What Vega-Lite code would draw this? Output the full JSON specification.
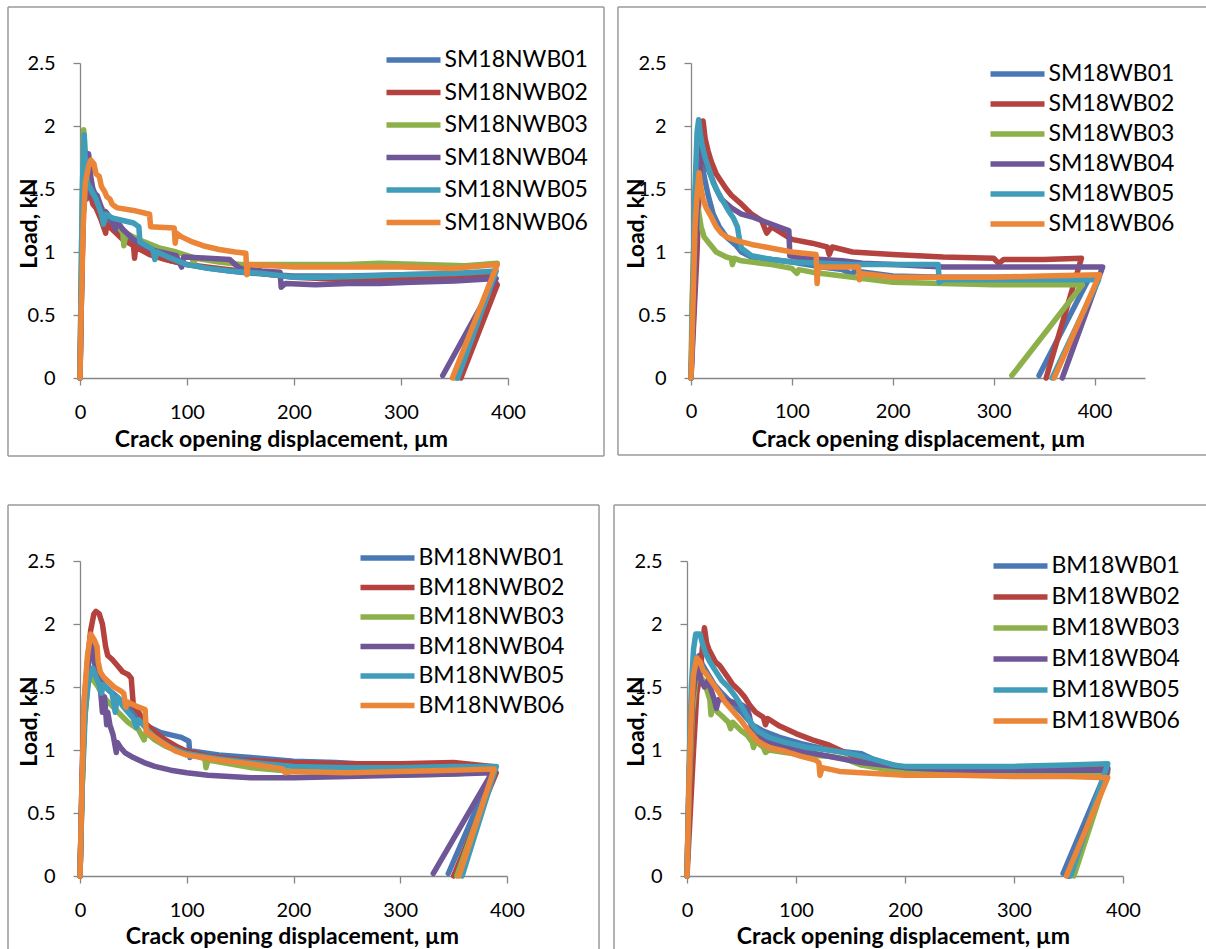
{
"$schema": "https://vega.github.io/schema/vega-lite/v6.json",
"autosize": {"type": "pad"},
"padding": {"left": 7, "top": 6, "right": 0, "bottom": 0},
"background": "white",
"config": {
  "view": {"stroke": null},
  "font": "Lato",
  "axis": {"grid": false, "domainColor": "#868686", "tickColor": "#868686", "domainWidth": 1.3, "tickWidth": 1.3, "tickSize": 7, "labelFont": "Lato", "labelFontSize": 20, "labelColor": "#000000", "labelFlush": false, "titleFont": "Lato", "titleFontSize": 23, "titleFontWeight": "bold", "titleColor": "#000000"},
  "axisX": {"labelPadding": 17},
  "axisY": {"labelPadding": 18},
  "legend": {"labelFont": "Lato", "labelFontSize": 23, "labelColor": "#000000", "symbolType": "M-3,0H3", "symbolSize": 324, "symbolStrokeWidth": 5.5, "symbolOffset": 15.5, "labelOffset": 19, "rowPadding": 8, "title": null, "orient": "none"},
  "line": {"strokeWidth": 5.5, "strokeCap": "round", "strokeJoin": "round"}
},
"resolve": {"scale": {"color": "independent"}, "legend": {"color": "independent"}},
"spacing": 47,
"vconcat": [
{"hconcat": [
{
 "width": 428, "height": 315,
 "layer": [
  {"data": {"values": [{}]}, "mark": {"type": "rule", "stroke": "#9a9a9a", "strokeWidth": 1.5}, "encoding": {"x": {"datum": -67.3}, "x2": {"datum": 489.7}, "y": {"datum": 2.944}, "y2": {"datum": 2.944}}},
  {"data": {"values": [{}]}, "mark": {"type": "rule", "stroke": "#9a9a9a", "strokeWidth": 1.5}, "encoding": {"x": {"datum": -67.3}, "x2": {"datum": 489.7}, "y": {"datum": -0.619}, "y2": {"datum": -0.619}}},
  {"data": {"values": [{}]}, "mark": {"type": "rule", "stroke": "#9a9a9a", "strokeWidth": 1.5}, "encoding": {"x": {"datum": -67.3}, "x2": {"datum": -67.3}, "y": {"datum": 2.944}, "y2": {"datum": -0.619}}},
  {"data": {"values": [{}]}, "mark": {"type": "rule", "stroke": "#9a9a9a", "strokeWidth": 1.5}, "encoding": {"x": {"datum": 489.7}, "x2": {"datum": 489.7}, "y": {"datum": 2.944}, "y2": {"datum": -0.619}}},
  {"data": {"name": "a"}, "mark": {"type": "line"},
   "encoding": {
    "x": {"field": "x", "type": "quantitative", "scale": {"domain": [0, 400], "nice": false, "zero": false}, "axis": {"title": "Crack opening displacement, µm", "values": [0, 100, 200, 300, 400], "format": "d", "titleX": 201, "titleY": 61, "titleBaseline": "middle", "titleAlign": "center"}},
    "y": {"field": "y", "type": "quantitative", "scale": {"domain": [0, 2.5], "nice": false, "zero": false}, "axis": {"title": "Load, kN", "values": [0, 0.5, 1, 1.5, 2, 2.5], "format": "~g", "titleX": -51, "titleY": 160, "titleAngle": 270, "titleBaseline": "middle", "titleAlign": "center"}},
    "color": {"field": "s", "type": "nominal", "scale": {"domain": ["SM18NWB01","SM18NWB02","SM18NWB03","SM18NWB04","SM18NWB05","SM18NWB06"], "range": ["#4A78B5","#B4423F","#8DB04B","#6F5697","#409DB9","#EB8537"]}, "legend": {"legendX": 306, "legendY": -15, "rowPadding": 8.5}},
    "order": {"value": null}
   }}
 ]
},
{
 "width": 454, "height": 315,
 "layer": [
  {"data": {"values": [{}]}, "mark": {"type": "rule", "stroke": "#9a9a9a", "strokeWidth": 1.5}, "encoding": {"x": {"datum": -72.4}, "x2": {"datum": 512.4}, "y": {"datum": 2.944}, "y2": {"datum": 2.944}}},
  {"data": {"values": [{}]}, "mark": {"type": "rule", "stroke": "#9a9a9a", "strokeWidth": 1.5}, "encoding": {"x": {"datum": -72.4}, "x2": {"datum": 512.4}, "y": {"datum": -0.611}, "y2": {"datum": -0.611}}},
  {"data": {"values": [{}]}, "mark": {"type": "rule", "stroke": "#9a9a9a", "strokeWidth": 1.5}, "encoding": {"x": {"datum": -72.4}, "x2": {"datum": -72.4}, "y": {"datum": 2.944}, "y2": {"datum": -0.611}}},
  {"data": {"name": "b"}, "mark": {"type": "line"},
   "encoding": {
    "x": {"field": "x", "type": "quantitative", "scale": {"domain": [0, 450], "nice": false, "zero": false}, "axis": {"title": "Crack opening displacement, µm", "values": [0, 100, 200, 300, 400], "format": "d", "labelPadding": 16, "titleX": 227, "titleY": 61, "titleBaseline": "middle", "titleAlign": "center"}},
    "y": {"field": "y", "type": "quantitative", "scale": {"domain": [0, 2.5], "nice": false, "zero": false}, "axis": {"title": "Load, kN", "values": [0, 0.5, 1, 1.5, 2, 2.5], "format": "~g", "titleX": -55, "titleY": 160, "titleAngle": 270, "titleBaseline": "middle", "titleAlign": "center"}},
    "color": {"field": "s", "type": "nominal", "scale": {"domain": ["SM18WB01","SM18WB02","SM18WB03","SM18WB04","SM18WB05","SM18WB06"], "range": ["#4A78B5","#B4423F","#8DB04B","#6F5697","#409DB9","#EB8537"]}, "legend": {"legendX": 299, "legendY": -1, "rowPadding": 6}},
    "order": {"value": null}
   }}
 ]
}
], "spacing": 12, "resolve": {"scale": {"color": "independent"}, "legend": {"color": "independent"}}},
{"hconcat": [
{
 "width": 427, "height": 315,
 "layer": [
  {"data": {"values": [{}]}, "mark": {"type": "rule", "stroke": "#9a9a9a", "strokeWidth": 1.5}, "encoding": {"x": {"datum": -67.45}, "x2": {"datum": 486.2}, "y": {"datum": 2.944}, "y2": {"datum": 2.944}}},
  {"data": {"values": [{}]}, "mark": {"type": "rule", "stroke": "#9a9a9a", "strokeWidth": 1.5}, "encoding": {"x": {"datum": -67.45}, "x2": {"datum": -67.45}, "y": {"datum": 2.944}, "y2": {"datum": -0.595}}},
  {"data": {"values": [{}]}, "mark": {"type": "rule", "stroke": "#9a9a9a", "strokeWidth": 1.5}, "encoding": {"x": {"datum": 486.2}, "x2": {"datum": 486.2}, "y": {"datum": 2.944}, "y2": {"datum": -0.595}}},
  {"data": {"name": "c"}, "mark": {"type": "line"},
   "encoding": {
    "x": {"field": "x", "type": "quantitative", "scale": {"domain": [0, 400], "nice": false, "zero": false}, "axis": {"title": "Crack opening displacement, µm", "values": [0, 100, 200, 300, 400], "format": "d", "titleX": 212, "titleY": 60, "titleBaseline": "middle", "titleAlign": "center"}},
    "y": {"field": "y", "type": "quantitative", "scale": {"domain": [0, 2.5], "nice": false, "zero": false}, "axis": {"title": "Load, kN", "values": [0, 0.5, 1, 1.5, 2, 2.5], "format": "~g", "titleX": -51, "titleY": 160, "titleAngle": 270, "titleBaseline": "middle", "titleAlign": "center"}},
    "color": {"field": "s", "type": "nominal", "scale": {"domain": ["BM18NWB01","BM18NWB02","BM18NWB03","BM18NWB04","BM18NWB05","BM18NWB06"], "range": ["#4A78B5","#B4423F","#8DB04B","#6F5697","#409DB9","#EB8537"]}, "legend": {"legendX": 280, "legendY": -15, "rowPadding": 5.5}},
    "order": {"value": null}
   }}
 ]
},
{
 "width": 436, "height": 315,
 "layer": [
  {"data": {"values": [{}]}, "mark": {"type": "rule", "stroke": "#9a9a9a", "strokeWidth": 1.5}, "encoding": {"x": {"datum": -66.97}, "x2": {"datum": 478}, "y": {"datum": 2.944}, "y2": {"datum": 2.944}}},
  {"data": {"values": [{}]}, "mark": {"type": "rule", "stroke": "#9a9a9a", "strokeWidth": 1.5}, "encoding": {"x": {"datum": -66.97}, "x2": {"datum": -66.97}, "y": {"datum": 2.944}, "y2": {"datum": -0.595}}},
  {"data": {"name": "d"}, "mark": {"type": "line"},
   "encoding": {
    "x": {"field": "x", "type": "quantitative", "scale": {"domain": [0, 400], "nice": false, "zero": false}, "axis": {"title": "Crack opening displacement, µm", "values": [0, 100, 200, 300, 400], "format": "d", "titleX": 216, "titleY": 60, "titleBaseline": "middle", "titleAlign": "center"}},
    "y": {"field": "y", "type": "quantitative", "scale": {"domain": [0, 2.5], "nice": false, "zero": false}, "axis": {"title": "Load, kN", "values": [0, 0.5, 1, 1.5, 2, 2.5], "format": "~g", "titleX": -51, "titleY": 160, "titleAngle": 270, "titleBaseline": "middle", "titleAlign": "center"}},
    "color": {"field": "s", "type": "nominal", "scale": {"domain": ["BM18WB01","BM18WB02","BM18WB03","BM18WB04","BM18WB05","BM18WB06"], "range": ["#4A78B5","#B4423F","#8DB04B","#6F5697","#409DB9","#EB8537"]}, "legend": {"legendX": 306, "legendY": -7, "rowPadding": 7}},
    "order": {"value": null}
   }}
 ]
}
], "spacing": 13, "resolve": {"scale": {"color": "independent"}, "legend": {"color": "independent"}}}
],
"datasets": {
"a": [
{"s":"SM18NWB01","x":0,"y":0},{"s":"SM18NWB01","x":1,"y":0.6},{"s":"SM18NWB01","x":3,"y":1.5},{"s":"SM18NWB01","x":5,"y":1.8},{"s":"SM18NWB01","x":7,"y":1.65},{"s":"SM18NWB01","x":9,"y":1.55},{"s":"SM18NWB01","x":12,"y":1.5},{"s":"SM18NWB01","x":15,"y":1.45},{"s":"SM18NWB01","x":20,"y":1.35},{"s":"SM18NWB01","x":25,"y":1.28},{"s":"SM18NWB01","x":30,"y":1.22},{"s":"SM18NWB01","x":40,"y":1.15},{"s":"SM18NWB01","x":50,"y":1.08},{"s":"SM18NWB01","x":60,"y":1.03},{"s":"SM18NWB01","x":70,"y":0.98},{"s":"SM18NWB01","x":85,"y":0.93},{"s":"SM18NWB01","x":100,"y":0.9},{"s":"SM18NWB01","x":120,"y":0.87},{"s":"SM18NWB01","x":150,"y":0.84},{"s":"SM18NWB01","x":180,"y":0.82},{"s":"SM18NWB01","x":200,"y":0.81},{"s":"SM18NWB01","x":250,"y":0.81},{"s":"SM18NWB01","x":300,"y":0.82},{"s":"SM18NWB01","x":350,"y":0.83},{"s":"SM18NWB01","x":388,"y":0.84},{"s":"SM18NWB01","x":352,"y":0},
{"s":"SM18NWB02","x":0,"y":0},{"s":"SM18NWB02","x":1,"y":0.5},{"s":"SM18NWB02","x":3,"y":1.3},{"s":"SM18NWB02","x":5,"y":1.55},{"s":"SM18NWB02","x":7,"y":1.45},{"s":"SM18NWB02","x":8,"y":1.52},{"s":"SM18NWB02","x":10,"y":1.45},{"s":"SM18NWB02","x":12,"y":1.38},{"s":"SM18NWB02","x":15,"y":1.35},{"s":"SM18NWB02","x":20,"y":1.25},{"s":"SM18NWB02","x":24,"y":1.15},{"s":"SM18NWB02","x":25,"y":1.22},{"s":"SM18NWB02","x":30,"y":1.18},{"s":"SM18NWB02","x":40,"y":1.1},{"s":"SM18NWB02","x":50,"y":1.05},{"s":"SM18NWB02","x":51,"y":0.95},{"s":"SM18NWB02","x":52,"y":1.04},{"s":"SM18NWB02","x":65,"y":0.98},{"s":"SM18NWB02","x":80,"y":0.94},{"s":"SM18NWB02","x":100,"y":0.9},{"s":"SM18NWB02","x":120,"y":0.88},{"s":"SM18NWB02","x":150,"y":0.85},{"s":"SM18NWB02","x":180,"y":0.82},{"s":"SM18NWB02","x":200,"y":0.8},{"s":"SM18NWB02","x":250,"y":0.78},{"s":"SM18NWB02","x":300,"y":0.78},{"s":"SM18NWB02","x":350,"y":0.79},{"s":"SM18NWB02","x":385,"y":0.8},{"s":"SM18NWB02","x":390,"y":0.74},{"s":"SM18NWB02","x":356,"y":0},
{"s":"SM18NWB03","x":0,"y":0},{"s":"SM18NWB03","x":1,"y":0.7},{"s":"SM18NWB03","x":2,"y":1.4},{"s":"SM18NWB03","x":3.5,"y":1.97},{"s":"SM18NWB03","x":5,"y":1.75},{"s":"SM18NWB03","x":7,"y":1.6},{"s":"SM18NWB03","x":10,"y":1.5},{"s":"SM18NWB03","x":15,"y":1.42},{"s":"SM18NWB03","x":20,"y":1.35},{"s":"SM18NWB03","x":25,"y":1.3},{"s":"SM18NWB03","x":30,"y":1.26},{"s":"SM18NWB03","x":35,"y":1.22},{"s":"SM18NWB03","x":40,"y":1.15},{"s":"SM18NWB03","x":41,"y":1.05},{"s":"SM18NWB03","x":43,"y":1.15},{"s":"SM18NWB03","x":50,"y":1.12},{"s":"SM18NWB03","x":60,"y":1.08},{"s":"SM18NWB03","x":75,"y":1.03},{"s":"SM18NWB03","x":90,"y":1.0},{"s":"SM18NWB03","x":105,"y":0.96},{"s":"SM18NWB03","x":106,"y":0.9},{"s":"SM18NWB03","x":108,"y":0.95},{"s":"SM18NWB03","x":130,"y":0.92},{"s":"SM18NWB03","x":150,"y":0.9},{"s":"SM18NWB03","x":200,"y":0.9},{"s":"SM18NWB03","x":250,"y":0.9},{"s":"SM18NWB03","x":280,"y":0.91},{"s":"SM18NWB03","x":320,"y":0.9},{"s":"SM18NWB03","x":360,"y":0.89},{"s":"SM18NWB03","x":390,"y":0.91},{"s":"SM18NWB03","x":350,"y":0},
{"s":"SM18NWB04","x":0,"y":0},{"s":"SM18NWB04","x":1,"y":0.5},{"s":"SM18NWB04","x":3,"y":1.3},{"s":"SM18NWB04","x":5,"y":1.55},{"s":"SM18NWB04","x":6,"y":1.42},{"s":"SM18NWB04","x":8,"y":1.78},{"s":"SM18NWB04","x":10,"y":1.6},{"s":"SM18NWB04","x":12,"y":1.5},{"s":"SM18NWB04","x":14,"y":1.42},{"s":"SM18NWB04","x":16,"y":1.45},{"s":"SM18NWB04","x":20,"y":1.35},{"s":"SM18NWB04","x":22,"y":1.25},{"s":"SM18NWB04","x":24,"y":1.32},{"s":"SM18NWB04","x":30,"y":1.25},{"s":"SM18NWB04","x":33,"y":1.18},{"s":"SM18NWB04","x":35,"y":1.24},{"s":"SM18NWB04","x":40,"y":1.18},{"s":"SM18NWB04","x":50,"y":1.1},{"s":"SM18NWB04","x":60,"y":1.05},{"s":"SM18NWB04","x":70,"y":1.01},{"s":"SM18NWB04","x":75,"y":1.0},{"s":"SM18NWB04","x":90,"y":0.97},{"s":"SM18NWB04","x":95,"y":0.88},{"s":"SM18NWB04","x":97,"y":0.96},{"s":"SM18NWB04","x":120,"y":0.95},{"s":"SM18NWB04","x":140,"y":0.94},{"s":"SM18NWB04","x":145,"y":0.9},{"s":"SM18NWB04","x":150,"y":0.87},{"s":"SM18NWB04","x":170,"y":0.85},{"s":"SM18NWB04","x":187,"y":0.84},{"s":"SM18NWB04","x":188,"y":0.72},{"s":"SM18NWB04","x":192,"y":0.75},{"s":"SM18NWB04","x":220,"y":0.74},{"s":"SM18NWB04","x":250,"y":0.75},{"s":"SM18NWB04","x":280,"y":0.75},{"s":"SM18NWB04","x":310,"y":0.76},{"s":"SM18NWB04","x":350,"y":0.77},{"s":"SM18NWB04","x":389,"y":0.79},{"s":"SM18NWB04","x":339,"y":0.02},
{"s":"SM18NWB05","x":0,"y":0},{"s":"SM18NWB05","x":1,"y":0.8},{"s":"SM18NWB05","x":2.5,"y":1.6},{"s":"SM18NWB05","x":4,"y":1.93},{"s":"SM18NWB05","x":5,"y":1.7},{"s":"SM18NWB05","x":7,"y":1.55},{"s":"SM18NWB05","x":10,"y":1.5},{"s":"SM18NWB05","x":15,"y":1.42},{"s":"SM18NWB05","x":20,"y":1.3},{"s":"SM18NWB05","x":22,"y":1.22},{"s":"SM18NWB05","x":24,"y":1.3},{"s":"SM18NWB05","x":30,"y":1.27},{"s":"SM18NWB05","x":40,"y":1.25},{"s":"SM18NWB05","x":50,"y":1.23},{"s":"SM18NWB05","x":55,"y":1.2},{"s":"SM18NWB05","x":56,"y":1.08},{"s":"SM18NWB05","x":60,"y":1.06},{"s":"SM18NWB05","x":68,"y":1.02},{"s":"SM18NWB05","x":70,"y":0.94},{"s":"SM18NWB05","x":72,"y":1.0},{"s":"SM18NWB05","x":85,"y":0.95},{"s":"SM18NWB05","x":100,"y":0.9},{"s":"SM18NWB05","x":120,"y":0.87},{"s":"SM18NWB05","x":140,"y":0.85},{"s":"SM18NWB05","x":170,"y":0.83},{"s":"SM18NWB05","x":200,"y":0.8},{"s":"SM18NWB05","x":230,"y":0.8},{"s":"SM18NWB05","x":270,"y":0.81},{"s":"SM18NWB05","x":300,"y":0.82},{"s":"SM18NWB05","x":350,"y":0.83},{"s":"SM18NWB05","x":389,"y":0.85},{"s":"SM18NWB05","x":353,"y":0},
{"s":"SM18NWB06","x":0,"y":0},{"s":"SM18NWB06","x":1,"y":0.5},{"s":"SM18NWB06","x":3,"y":1.2},{"s":"SM18NWB06","x":5,"y":1.55},{"s":"SM18NWB06","x":8,"y":1.68},{"s":"SM18NWB06","x":10,"y":1.73},{"s":"SM18NWB06","x":13,"y":1.7},{"s":"SM18NWB06","x":15,"y":1.62},{"s":"SM18NWB06","x":18,"y":1.6},{"s":"SM18NWB06","x":20,"y":1.52},{"s":"SM18NWB06","x":23,"y":1.48},{"s":"SM18NWB06","x":25,"y":1.44},{"s":"SM18NWB06","x":28,"y":1.42},{"s":"SM18NWB06","x":30,"y":1.38},{"s":"SM18NWB06","x":33,"y":1.36},{"s":"SM18NWB06","x":35,"y":1.35},{"s":"SM18NWB06","x":50,"y":1.33},{"s":"SM18NWB06","x":65,"y":1.3},{"s":"SM18NWB06","x":66,"y":1.2},{"s":"SM18NWB06","x":88,"y":1.19},{"s":"SM18NWB06","x":89,"y":1.07},{"s":"SM18NWB06","x":90,"y":1.15},{"s":"SM18NWB06","x":95,"y":1.12},{"s":"SM18NWB06","x":105,"y":1.08},{"s":"SM18NWB06","x":115,"y":1.05},{"s":"SM18NWB06","x":130,"y":1.02},{"s":"SM18NWB06","x":145,"y":1.0},{"s":"SM18NWB06","x":155,"y":0.99},{"s":"SM18NWB06","x":156,"y":0.82},{"s":"SM18NWB06","x":157,"y":0.9},{"s":"SM18NWB06","x":180,"y":0.89},{"s":"SM18NWB06","x":200,"y":0.88},{"s":"SM18NWB06","x":250,"y":0.88},{"s":"SM18NWB06","x":300,"y":0.88},{"s":"SM18NWB06","x":350,"y":0.87},{"s":"SM18NWB06","x":390,"y":0.9},{"s":"SM18NWB06","x":348,"y":0}
],
"b": [
{"s":"SM18WB01","x":0,"y":0},{"s":"SM18WB01","x":2,"y":0.6},{"s":"SM18WB01","x":4,"y":1.4},{"s":"SM18WB01","x":6,"y":1.8},{"s":"SM18WB01","x":8,"y":1.9},{"s":"SM18WB01","x":10,"y":1.75},{"s":"SM18WB01","x":13,"y":1.6},{"s":"SM18WB01","x":17,"y":1.45},{"s":"SM18WB01","x":22,"y":1.3},{"s":"SM18WB01","x":28,"y":1.2},{"s":"SM18WB01","x":35,"y":1.12},{"s":"SM18WB01","x":45,"y":1.05},{"s":"SM18WB01","x":50,"y":1.0},{"s":"SM18WB01","x":55,"y":0.98},{"s":"SM18WB01","x":60,"y":0.96},{"s":"SM18WB01","x":80,"y":0.94},{"s":"SM18WB01","x":100,"y":0.92},{"s":"SM18WB01","x":130,"y":0.88},{"s":"SM18WB01","x":150,"y":0.86},{"s":"SM18WB01","x":160,"y":0.82},{"s":"SM18WB01","x":162,"y":0.85},{"s":"SM18WB01","x":200,"y":0.81},{"s":"SM18WB01","x":250,"y":0.8},{"s":"SM18WB01","x":300,"y":0.8},{"s":"SM18WB01","x":350,"y":0.8},{"s":"SM18WB01","x":395,"y":0.8},{"s":"SM18WB01","x":345,"y":0.02},
{"s":"SM18WB02","x":0,"y":0},{"s":"SM18WB02","x":3,"y":0.5},{"s":"SM18WB02","x":6,"y":1.0},{"s":"SM18WB02","x":8,"y":1.5},{"s":"SM18WB02","x":10,"y":1.9},{"s":"SM18WB02","x":12,"y":2.04},{"s":"SM18WB02","x":14,"y":1.9},{"s":"SM18WB02","x":17,"y":1.8},{"s":"SM18WB02","x":20,"y":1.72},{"s":"SM18WB02","x":25,"y":1.62},{"s":"SM18WB02","x":30,"y":1.56},{"s":"SM18WB02","x":35,"y":1.5},{"s":"SM18WB02","x":40,"y":1.45},{"s":"SM18WB02","x":50,"y":1.38},{"s":"SM18WB02","x":60,"y":1.3},{"s":"SM18WB02","x":70,"y":1.25},{"s":"SM18WB02","x":75,"y":1.15},{"s":"SM18WB02","x":80,"y":1.2},{"s":"SM18WB02","x":90,"y":1.15},{"s":"SM18WB02","x":100,"y":1.1},{"s":"SM18WB02","x":120,"y":1.07},{"s":"SM18WB02","x":135,"y":1.04},{"s":"SM18WB02","x":137,"y":0.98},{"s":"SM18WB02","x":140,"y":1.04},{"s":"SM18WB02","x":160,"y":1.0},{"s":"SM18WB02","x":200,"y":0.98},{"s":"SM18WB02","x":250,"y":0.96},{"s":"SM18WB02","x":300,"y":0.95},{"s":"SM18WB02","x":305,"y":0.91},{"s":"SM18WB02","x":310,"y":0.94},{"s":"SM18WB02","x":350,"y":0.94},{"s":"SM18WB02","x":387,"y":0.95},{"s":"SM18WB02","x":352,"y":0},
{"s":"SM18WB03","x":0,"y":0},{"s":"SM18WB03","x":1,"y":0.6},{"s":"SM18WB03","x":3,"y":1.1},{"s":"SM18WB03","x":6,"y":1.38},{"s":"SM18WB03","x":8,"y":1.3},{"s":"SM18WB03","x":10,"y":1.2},{"s":"SM18WB03","x":13,"y":1.12},{"s":"SM18WB03","x":17,"y":1.08},{"s":"SM18WB03","x":20,"y":1.05},{"s":"SM18WB03","x":25,"y":1.0},{"s":"SM18WB03","x":30,"y":0.98},{"s":"SM18WB03","x":35,"y":0.96},{"s":"SM18WB03","x":40,"y":0.95},{"s":"SM18WB03","x":41,"y":0.9},{"s":"SM18WB03","x":43,"y":0.95},{"s":"SM18WB03","x":50,"y":0.93},{"s":"SM18WB03","x":60,"y":0.92},{"s":"SM18WB03","x":80,"y":0.9},{"s":"SM18WB03","x":100,"y":0.87},{"s":"SM18WB03","x":105,"y":0.83},{"s":"SM18WB03","x":107,"y":0.86},{"s":"SM18WB03","x":120,"y":0.84},{"s":"SM18WB03","x":150,"y":0.81},{"s":"SM18WB03","x":180,"y":0.78},{"s":"SM18WB03","x":200,"y":0.76},{"s":"SM18WB03","x":250,"y":0.75},{"s":"SM18WB03","x":300,"y":0.74},{"s":"SM18WB03","x":350,"y":0.74},{"s":"SM18WB03","x":388,"y":0.74},{"s":"SM18WB03","x":322,"y":0.06},{"s":"SM18WB03","x":318,"y":0.02},
{"s":"SM18WB04","x":0,"y":0},{"s":"SM18WB04","x":3,"y":0.6},{"s":"SM18WB04","x":6,"y":1.3},{"s":"SM18WB04","x":8,"y":1.75},{"s":"SM18WB04","x":10,"y":1.85},{"s":"SM18WB04","x":12,"y":1.8},{"s":"SM18WB04","x":15,"y":1.7},{"s":"SM18WB04","x":20,"y":1.6},{"s":"SM18WB04","x":25,"y":1.5},{"s":"SM18WB04","x":30,"y":1.42},{"s":"SM18WB04","x":40,"y":1.35},{"s":"SM18WB04","x":50,"y":1.3},{"s":"SM18WB04","x":60,"y":1.28},{"s":"SM18WB04","x":70,"y":1.25},{"s":"SM18WB04","x":80,"y":1.22},{"s":"SM18WB04","x":90,"y":1.19},{"s":"SM18WB04","x":97,"y":1.17},{"s":"SM18WB04","x":98,"y":0.97},{"s":"SM18WB04","x":110,"y":0.95},{"s":"SM18WB04","x":130,"y":0.94},{"s":"SM18WB04","x":150,"y":0.93},{"s":"SM18WB04","x":170,"y":0.91},{"s":"SM18WB04","x":200,"y":0.9},{"s":"SM18WB04","x":250,"y":0.88},{"s":"SM18WB04","x":300,"y":0.88},{"s":"SM18WB04","x":350,"y":0.88},{"s":"SM18WB04","x":408,"y":0.88},{"s":"SM18WB04","x":368,"y":0},
{"s":"SM18WB05","x":0,"y":0},{"s":"SM18WB05","x":2,"y":0.8},{"s":"SM18WB05","x":4,"y":1.5},{"s":"SM18WB05","x":6,"y":1.95},{"s":"SM18WB05","x":7.6,"y":2.05},{"s":"SM18WB05","x":9,"y":1.95},{"s":"SM18WB05","x":11,"y":1.85},{"s":"SM18WB05","x":14,"y":1.75},{"s":"SM18WB05","x":18,"y":1.65},{"s":"SM18WB05","x":22,"y":1.55},{"s":"SM18WB05","x":27,"y":1.47},{"s":"SM18WB05","x":32,"y":1.4},{"s":"SM18WB05","x":37,"y":1.33},{"s":"SM18WB05","x":42,"y":1.27},{"s":"SM18WB05","x":46,"y":1.2},{"s":"SM18WB05","x":48,"y":1.1},{"s":"SM18WB05","x":50,"y":1.03},{"s":"SM18WB05","x":55,"y":1.0},{"s":"SM18WB05","x":60,"y":0.97},{"s":"SM18WB05","x":80,"y":0.94},{"s":"SM18WB05","x":100,"y":0.92},{"s":"SM18WB05","x":130,"y":0.91},{"s":"SM18WB05","x":160,"y":0.9},{"s":"SM18WB05","x":200,"y":0.9},{"s":"SM18WB05","x":245,"y":0.9},{"s":"SM18WB05","x":246,"y":0.76},{"s":"SM18WB05","x":250,"y":0.78},{"s":"SM18WB05","x":300,"y":0.78},{"s":"SM18WB05","x":350,"y":0.78},{"s":"SM18WB05","x":404,"y":0.78},{"s":"SM18WB05","x":358,"y":0},
{"s":"SM18WB06","x":0,"y":0},{"s":"SM18WB06","x":2,"y":0.6},{"s":"SM18WB06","x":4,"y":1.2},{"s":"SM18WB06","x":6,"y":1.45},{"s":"SM18WB06","x":8,"y":1.63},{"s":"SM18WB06","x":10,"y":1.5},{"s":"SM18WB06","x":12,"y":1.42},{"s":"SM18WB06","x":15,"y":1.35},{"s":"SM18WB06","x":20,"y":1.28},{"s":"SM18WB06","x":25,"y":1.2},{"s":"SM18WB06","x":30,"y":1.15},{"s":"SM18WB06","x":35,"y":1.12},{"s":"SM18WB06","x":45,"y":1.09},{"s":"SM18WB06","x":60,"y":1.06},{"s":"SM18WB06","x":80,"y":1.03},{"s":"SM18WB06","x":100,"y":1.0},{"s":"SM18WB06","x":124,"y":0.98},{"s":"SM18WB06","x":125,"y":0.75},{"s":"SM18WB06","x":126,"y":0.88},{"s":"SM18WB06","x":140,"y":0.88},{"s":"SM18WB06","x":166,"y":0.88},{"s":"SM18WB06","x":167,"y":0.78},{"s":"SM18WB06","x":168,"y":0.83},{"s":"SM18WB06","x":180,"y":0.82},{"s":"SM18WB06","x":200,"y":0.8},{"s":"SM18WB06","x":250,"y":0.8},{"s":"SM18WB06","x":300,"y":0.8},{"s":"SM18WB06","x":350,"y":0.81},{"s":"SM18WB06","x":405,"y":0.82},{"s":"SM18WB06","x":360,"y":0}
],
"c": [
{"s":"BM18NWB01","x":0,"y":0},{"s":"BM18NWB01","x":2,"y":0.8},{"s":"BM18NWB01","x":4,"y":1.4},{"s":"BM18NWB01","x":7,"y":1.7},{"s":"BM18NWB01","x":10,"y":1.82},{"s":"BM18NWB01","x":13,"y":1.7},{"s":"BM18NWB01","x":17,"y":1.6},{"s":"BM18NWB01","x":22,"y":1.52},{"s":"BM18NWB01","x":28,"y":1.47},{"s":"BM18NWB01","x":35,"y":1.42},{"s":"BM18NWB01","x":42,"y":1.36},{"s":"BM18NWB01","x":50,"y":1.3},{"s":"BM18NWB01","x":58,"y":1.22},{"s":"BM18NWB01","x":65,"y":1.18},{"s":"BM18NWB01","x":75,"y":1.14},{"s":"BM18NWB01","x":85,"y":1.12},{"s":"BM18NWB01","x":95,"y":1.1},{"s":"BM18NWB01","x":102,"y":1.07},{"s":"BM18NWB01","x":103,"y":0.94},{"s":"BM18NWB01","x":106,"y":0.99},{"s":"BM18NWB01","x":130,"y":0.96},{"s":"BM18NWB01","x":160,"y":0.94},{"s":"BM18NWB01","x":200,"y":0.91},{"s":"BM18NWB01","x":240,"y":0.9},{"s":"BM18NWB01","x":280,"y":0.88},{"s":"BM18NWB01","x":320,"y":0.87},{"s":"BM18NWB01","x":350,"y":0.87},{"s":"BM18NWB01","x":388,"y":0.86},{"s":"BM18NWB01","x":345,"y":0.02},
{"s":"BM18NWB02","x":0,"y":0},{"s":"BM18NWB02","x":2,"y":0.7},{"s":"BM18NWB02","x":4,"y":1.3},{"s":"BM18NWB02","x":7,"y":1.7},{"s":"BM18NWB02","x":10,"y":1.95},{"s":"BM18NWB02","x":13,"y":2.08},{"s":"BM18NWB02","x":15,"y":2.1},{"s":"BM18NWB02","x":18,"y":2.08},{"s":"BM18NWB02","x":21,"y":2.0},{"s":"BM18NWB02","x":24,"y":1.82},{"s":"BM18NWB02","x":26,"y":1.75},{"s":"BM18NWB02","x":30,"y":1.72},{"s":"BM18NWB02","x":35,"y":1.67},{"s":"BM18NWB02","x":40,"y":1.62},{"s":"BM18NWB02","x":45,"y":1.6},{"s":"BM18NWB02","x":48,"y":1.57},{"s":"BM18NWB02","x":50,"y":1.35},{"s":"BM18NWB02","x":55,"y":1.3},{"s":"BM18NWB02","x":60,"y":1.22},{"s":"BM18NWB02","x":68,"y":1.16},{"s":"BM18NWB02","x":78,"y":1.09},{"s":"BM18NWB02","x":90,"y":1.03},{"s":"BM18NWB02","x":100,"y":0.99},{"s":"BM18NWB02","x":120,"y":0.95},{"s":"BM18NWB02","x":150,"y":0.92},{"s":"BM18NWB02","x":200,"y":0.9},{"s":"BM18NWB02","x":250,"y":0.89},{"s":"BM18NWB02","x":300,"y":0.89},{"s":"BM18NWB02","x":350,"y":0.9},{"s":"BM18NWB02","x":386,"y":0.87},{"s":"BM18NWB02","x":390,"y":0.82},{"s":"BM18NWB02","x":350,"y":0},
{"s":"BM18NWB03","x":0,"y":0},{"s":"BM18NWB03","x":2,"y":0.7},{"s":"BM18NWB03","x":4,"y":1.2},{"s":"BM18NWB03","x":7,"y":1.5},{"s":"BM18NWB03","x":10,"y":1.6},{"s":"BM18NWB03","x":13,"y":1.55},{"s":"BM18NWB03","x":17,"y":1.5},{"s":"BM18NWB03","x":22,"y":1.42},{"s":"BM18NWB03","x":30,"y":1.35},{"s":"BM18NWB03","x":38,"y":1.28},{"s":"BM18NWB03","x":45,"y":1.22},{"s":"BM18NWB03","x":55,"y":1.16},{"s":"BM18NWB03","x":60,"y":1.08},{"s":"BM18NWB03","x":62,"y":1.14},{"s":"BM18NWB03","x":70,"y":1.08},{"s":"BM18NWB03","x":80,"y":1.03},{"s":"BM18NWB03","x":95,"y":0.98},{"s":"BM18NWB03","x":110,"y":0.95},{"s":"BM18NWB03","x":117,"y":0.93},{"s":"BM18NWB03","x":118,"y":0.86},{"s":"BM18NWB03","x":120,"y":0.92},{"s":"BM18NWB03","x":140,"y":0.89},{"s":"BM18NWB03","x":160,"y":0.86},{"s":"BM18NWB03","x":200,"y":0.83},{"s":"BM18NWB03","x":250,"y":0.82},{"s":"BM18NWB03","x":300,"y":0.8},{"s":"BM18NWB03","x":350,"y":0.81},{"s":"BM18NWB03","x":388,"y":0.83},{"s":"BM18NWB03","x":353,"y":0},
{"s":"BM18NWB04","x":0,"y":0},{"s":"BM18NWB04","x":2,"y":0.8},{"s":"BM18NWB04","x":5,"y":1.4},{"s":"BM18NWB04","x":8,"y":1.7},{"s":"BM18NWB04","x":11,"y":1.85},{"s":"BM18NWB04","x":13,"y":1.75},{"s":"BM18NWB04","x":16,"y":1.6},{"s":"BM18NWB04","x":19,"y":1.5},{"s":"BM18NWB04","x":21,"y":1.3},{"s":"BM18NWB04","x":23,"y":1.42},{"s":"BM18NWB04","x":25,"y":1.2},{"s":"BM18NWB04","x":26,"y":1.3},{"s":"BM18NWB04","x":28,"y":1.2},{"s":"BM18NWB04","x":31,"y":1.12},{"s":"BM18NWB04","x":34,"y":0.98},{"s":"BM18NWB04","x":35,"y":1.06},{"s":"BM18NWB04","x":38,"y":1.02},{"s":"BM18NWB04","x":42,"y":0.98},{"s":"BM18NWB04","x":50,"y":0.94},{"s":"BM18NWB04","x":60,"y":0.9},{"s":"BM18NWB04","x":70,"y":0.87},{"s":"BM18NWB04","x":85,"y":0.84},{"s":"BM18NWB04","x":100,"y":0.82},{"s":"BM18NWB04","x":120,"y":0.8},{"s":"BM18NWB04","x":140,"y":0.79},{"s":"BM18NWB04","x":160,"y":0.78},{"s":"BM18NWB04","x":200,"y":0.78},{"s":"BM18NWB04","x":250,"y":0.79},{"s":"BM18NWB04","x":300,"y":0.8},{"s":"BM18NWB04","x":350,"y":0.81},{"s":"BM18NWB04","x":386,"y":0.82},{"s":"BM18NWB04","x":331,"y":0.02},
{"s":"BM18NWB05","x":0,"y":0},{"s":"BM18NWB05","x":2,"y":0.7},{"s":"BM18NWB05","x":5,"y":1.3},{"s":"BM18NWB05","x":8,"y":1.55},{"s":"BM18NWB05","x":12,"y":1.65},{"s":"BM18NWB05","x":15,"y":1.58},{"s":"BM18NWB05","x":18,"y":1.52},{"s":"BM18NWB05","x":20,"y":1.45},{"s":"BM18NWB05","x":22,"y":1.52},{"s":"BM18NWB05","x":26,"y":1.48},{"s":"BM18NWB05","x":30,"y":1.45},{"s":"BM18NWB05","x":33,"y":1.3},{"s":"BM18NWB05","x":35,"y":1.42},{"s":"BM18NWB05","x":40,"y":1.35},{"s":"BM18NWB05","x":45,"y":1.3},{"s":"BM18NWB05","x":50,"y":1.25},{"s":"BM18NWB05","x":53,"y":1.18},{"s":"BM18NWB05","x":55,"y":1.24},{"s":"BM18NWB05","x":62,"y":1.17},{"s":"BM18NWB05","x":70,"y":1.1},{"s":"BM18NWB05","x":85,"y":1.02},{"s":"BM18NWB05","x":100,"y":0.97},{"s":"BM18NWB05","x":130,"y":0.93},{"s":"BM18NWB05","x":160,"y":0.9},{"s":"BM18NWB05","x":200,"y":0.87},{"s":"BM18NWB05","x":250,"y":0.86},{"s":"BM18NWB05","x":300,"y":0.86},{"s":"BM18NWB05","x":350,"y":0.87},{"s":"BM18NWB05","x":390,"y":0.87},{"s":"BM18NWB05","x":358,"y":0},
{"s":"BM18NWB06","x":0,"y":0},{"s":"BM18NWB06","x":2,"y":0.8},{"s":"BM18NWB06","x":4,"y":1.4},{"s":"BM18NWB06","x":7,"y":1.75},{"s":"BM18NWB06","x":10,"y":1.92},{"s":"BM18NWB06","x":13,"y":1.88},{"s":"BM18NWB06","x":16,"y":1.82},{"s":"BM18NWB06","x":17,"y":1.7},{"s":"BM18NWB06","x":19,"y":1.62},{"s":"BM18NWB06","x":22,"y":1.58},{"s":"BM18NWB06","x":27,"y":1.54},{"s":"BM18NWB06","x":32,"y":1.5},{"s":"BM18NWB06","x":38,"y":1.47},{"s":"BM18NWB06","x":41,"y":1.45},{"s":"BM18NWB06","x":43,"y":1.34},{"s":"BM18NWB06","x":45,"y":1.38},{"s":"BM18NWB06","x":50,"y":1.36},{"s":"BM18NWB06","x":55,"y":1.34},{"s":"BM18NWB06","x":61,"y":1.32},{"s":"BM18NWB06","x":62,"y":1.15},{"s":"BM18NWB06","x":70,"y":1.1},{"s":"BM18NWB06","x":80,"y":1.04},{"s":"BM18NWB06","x":90,"y":0.99},{"s":"BM18NWB06","x":100,"y":0.96},{"s":"BM18NWB06","x":130,"y":0.92},{"s":"BM18NWB06","x":160,"y":0.89},{"s":"BM18NWB06","x":190,"y":0.85},{"s":"BM18NWB06","x":192,"y":0.82},{"s":"BM18NWB06","x":200,"y":0.83},{"s":"BM18NWB06","x":250,"y":0.82},{"s":"BM18NWB06","x":300,"y":0.83},{"s":"BM18NWB06","x":350,"y":0.84},{"s":"BM18NWB06","x":388,"y":0.85},{"s":"BM18NWB06","x":355,"y":0}
],
"d": [
{"s":"BM18WB01","x":0,"y":0},{"s":"BM18WB01","x":2,"y":0.8},{"s":"BM18WB01","x":5,"y":1.4},{"s":"BM18WB01","x":8,"y":1.7},{"s":"BM18WB01","x":11,"y":1.75},{"s":"BM18WB01","x":14,"y":1.68},{"s":"BM18WB01","x":18,"y":1.62},{"s":"BM18WB01","x":25,"y":1.52},{"s":"BM18WB01","x":32,"y":1.45},{"s":"BM18WB01","x":40,"y":1.38},{"s":"BM18WB01","x":50,"y":1.3},{"s":"BM18WB01","x":60,"y":1.2},{"s":"BM18WB01","x":70,"y":1.15},{"s":"BM18WB01","x":85,"y":1.1},{"s":"BM18WB01","x":105,"y":1.05},{"s":"BM18WB01","x":130,"y":1.0},{"s":"BM18WB01","x":150,"y":0.98},{"s":"BM18WB01","x":160,"y":0.97},{"s":"BM18WB01","x":170,"y":0.93},{"s":"BM18WB01","x":180,"y":0.9},{"s":"BM18WB01","x":200,"y":0.86},{"s":"BM18WB01","x":250,"y":0.85},{"s":"BM18WB01","x":300,"y":0.85},{"s":"BM18WB01","x":350,"y":0.86},{"s":"BM18WB01","x":386,"y":0.86},{"s":"BM18WB01","x":345,"y":0.02},
{"s":"BM18WB02","x":0,"y":0},{"s":"BM18WB02","x":3,"y":0.5},{"s":"BM18WB02","x":6,"y":1.0},{"s":"BM18WB02","x":9,"y":1.45},{"s":"BM18WB02","x":12,"y":1.6},{"s":"BM18WB02","x":14,"y":1.8},{"s":"BM18WB02","x":16,"y":1.97},{"s":"BM18WB02","x":18,"y":1.85},{"s":"BM18WB02","x":20,"y":1.8},{"s":"BM18WB02","x":23,"y":1.75},{"s":"BM18WB02","x":26,"y":1.7},{"s":"BM18WB02","x":30,"y":1.67},{"s":"BM18WB02","x":34,"y":1.62},{"s":"BM18WB02","x":38,"y":1.57},{"s":"BM18WB02","x":42,"y":1.52},{"s":"BM18WB02","x":48,"y":1.47},{"s":"BM18WB02","x":53,"y":1.42},{"s":"BM18WB02","x":58,"y":1.35},{"s":"BM18WB02","x":63,"y":1.3},{"s":"BM18WB02","x":70,"y":1.26},{"s":"BM18WB02","x":72,"y":1.2},{"s":"BM18WB02","x":74,"y":1.25},{"s":"BM18WB02","x":85,"y":1.19},{"s":"BM18WB02","x":100,"y":1.13},{"s":"BM18WB02","x":115,"y":1.08},{"s":"BM18WB02","x":130,"y":1.04},{"s":"BM18WB02","x":140,"y":1.0},{"s":"BM18WB02","x":150,"y":0.96},{"s":"BM18WB02","x":170,"y":0.9},{"s":"BM18WB02","x":200,"y":0.86},{"s":"BM18WB02","x":250,"y":0.85},{"s":"BM18WB02","x":300,"y":0.85},{"s":"BM18WB02","x":350,"y":0.85},{"s":"BM18WB02","x":386,"y":0.85},{"s":"BM18WB02","x":350,"y":0},
{"s":"BM18WB03","x":0,"y":0},{"s":"BM18WB03","x":2,"y":0.7},{"s":"BM18WB03","x":5,"y":1.3},{"s":"BM18WB03","x":8,"y":1.55},{"s":"BM18WB03","x":11,"y":1.6},{"s":"BM18WB03","x":15,"y":1.55},{"s":"BM18WB03","x":18,"y":1.48},{"s":"BM18WB03","x":21,"y":1.4},{"s":"BM18WB03","x":22,"y":1.28},{"s":"BM18WB03","x":24,"y":1.35},{"s":"BM18WB03","x":28,"y":1.3},{"s":"BM18WB03","x":32,"y":1.27},{"s":"BM18WB03","x":38,"y":1.22},{"s":"BM18WB03","x":40,"y":1.17},{"s":"BM18WB03","x":42,"y":1.22},{"s":"BM18WB03","x":50,"y":1.15},{"s":"BM18WB03","x":55,"y":1.12},{"s":"BM18WB03","x":60,"y":1.06},{"s":"BM18WB03","x":61,"y":1.02},{"s":"BM18WB03","x":63,"y":1.07},{"s":"BM18WB03","x":70,"y":1.02},{"s":"BM18WB03","x":72,"y":0.98},{"s":"BM18WB03","x":75,"y":1.0},{"s":"BM18WB03","x":90,"y":0.98},{"s":"BM18WB03","x":110,"y":0.96},{"s":"BM18WB03","x":130,"y":0.95},{"s":"BM18WB03","x":145,"y":0.93},{"s":"BM18WB03","x":160,"y":0.88},{"s":"BM18WB03","x":180,"y":0.85},{"s":"BM18WB03","x":200,"y":0.83},{"s":"BM18WB03","x":250,"y":0.82},{"s":"BM18WB03","x":300,"y":0.82},{"s":"BM18WB03","x":350,"y":0.82},{"s":"BM18WB03","x":386,"y":0.82},{"s":"BM18WB03","x":355,"y":0},
{"s":"BM18WB04","x":0,"y":0},{"s":"BM18WB04","x":2,"y":0.8},{"s":"BM18WB04","x":5,"y":1.4},{"s":"BM18WB04","x":8,"y":1.6},{"s":"BM18WB04","x":10,"y":1.65},{"s":"BM18WB04","x":13,"y":1.55},{"s":"BM18WB04","x":16,"y":1.5},{"s":"BM18WB04","x":19,"y":1.55},{"s":"BM18WB04","x":22,"y":1.48},{"s":"BM18WB04","x":25,"y":1.4},{"s":"BM18WB04","x":27,"y":1.33},{"s":"BM18WB04","x":29,"y":1.4},{"s":"BM18WB04","x":35,"y":1.4},{"s":"BM18WB04","x":42,"y":1.38},{"s":"BM18WB04","x":50,"y":1.36},{"s":"BM18WB04","x":55,"y":1.33},{"s":"BM18WB04","x":57,"y":1.28},{"s":"BM18WB04","x":60,"y":1.15},{"s":"BM18WB04","x":66,"y":1.1},{"s":"BM18WB04","x":80,"y":1.05},{"s":"BM18WB04","x":100,"y":1.0},{"s":"BM18WB04","x":130,"y":0.95},{"s":"BM18WB04","x":160,"y":0.9},{"s":"BM18WB04","x":200,"y":0.86},{"s":"BM18WB04","x":250,"y":0.84},{"s":"BM18WB04","x":300,"y":0.84},{"s":"BM18WB04","x":350,"y":0.84},{"s":"BM18WB04","x":386,"y":0.84},{"s":"BM18WB04","x":350,"y":0},
{"s":"BM18WB05","x":0,"y":0},{"s":"BM18WB05","x":2,"y":0.9},{"s":"BM18WB05","x":4,"y":1.5},{"s":"BM18WB05","x":6,"y":1.8},{"s":"BM18WB05","x":8,"y":1.92},{"s":"BM18WB05","x":12,"y":1.92},{"s":"BM18WB05","x":14,"y":1.85},{"s":"BM18WB05","x":17,"y":1.77},{"s":"BM18WB05","x":21,"y":1.7},{"s":"BM18WB05","x":26,"y":1.63},{"s":"BM18WB05","x":32,"y":1.55},{"s":"BM18WB05","x":38,"y":1.5},{"s":"BM18WB05","x":44,"y":1.43},{"s":"BM18WB05","x":50,"y":1.35},{"s":"BM18WB05","x":55,"y":1.27},{"s":"BM18WB05","x":60,"y":1.2},{"s":"BM18WB05","x":65,"y":1.15},{"s":"BM18WB05","x":75,"y":1.1},{"s":"BM18WB05","x":90,"y":1.06},{"s":"BM18WB05","x":110,"y":1.02},{"s":"BM18WB05","x":130,"y":1.0},{"s":"BM18WB05","x":150,"y":0.97},{"s":"BM18WB05","x":170,"y":0.93},{"s":"BM18WB05","x":190,"y":0.88},{"s":"BM18WB05","x":200,"y":0.87},{"s":"BM18WB05","x":250,"y":0.87},{"s":"BM18WB05","x":300,"y":0.87},{"s":"BM18WB05","x":350,"y":0.88},{"s":"BM18WB05","x":386,"y":0.89},{"s":"BM18WB05","x":352,"y":0},
{"s":"BM18WB06","x":0,"y":0},{"s":"BM18WB06","x":2,"y":0.8},{"s":"BM18WB06","x":4,"y":1.3},{"s":"BM18WB06","x":6,"y":1.6},{"s":"BM18WB06","x":9,"y":1.73},{"s":"BM18WB06","x":12,"y":1.7},{"s":"BM18WB06","x":15,"y":1.63},{"s":"BM18WB06","x":18,"y":1.6},{"s":"BM18WB06","x":22,"y":1.55},{"s":"BM18WB06","x":26,"y":1.5},{"s":"BM18WB06","x":30,"y":1.45},{"s":"BM18WB06","x":35,"y":1.38},{"s":"BM18WB06","x":40,"y":1.33},{"s":"BM18WB06","x":45,"y":1.28},{"s":"BM18WB06","x":50,"y":1.23},{"s":"BM18WB06","x":55,"y":1.17},{"s":"BM18WB06","x":60,"y":1.12},{"s":"BM18WB06","x":65,"y":1.07},{"s":"BM18WB06","x":75,"y":1.02},{"s":"BM18WB06","x":90,"y":0.99},{"s":"BM18WB06","x":105,"y":0.95},{"s":"BM18WB06","x":118,"y":0.92},{"s":"BM18WB06","x":121,"y":0.9},{"s":"BM18WB06","x":122,"y":0.8},{"s":"BM18WB06","x":124,"y":0.86},{"s":"BM18WB06","x":140,"y":0.83},{"s":"BM18WB06","x":160,"y":0.82},{"s":"BM18WB06","x":180,"y":0.81},{"s":"BM18WB06","x":200,"y":0.8},{"s":"BM18WB06","x":250,"y":0.8},{"s":"BM18WB06","x":300,"y":0.79},{"s":"BM18WB06","x":350,"y":0.79},{"s":"BM18WB06","x":386,"y":0.78},{"s":"BM18WB06","x":348,"y":0}
]
}
}
